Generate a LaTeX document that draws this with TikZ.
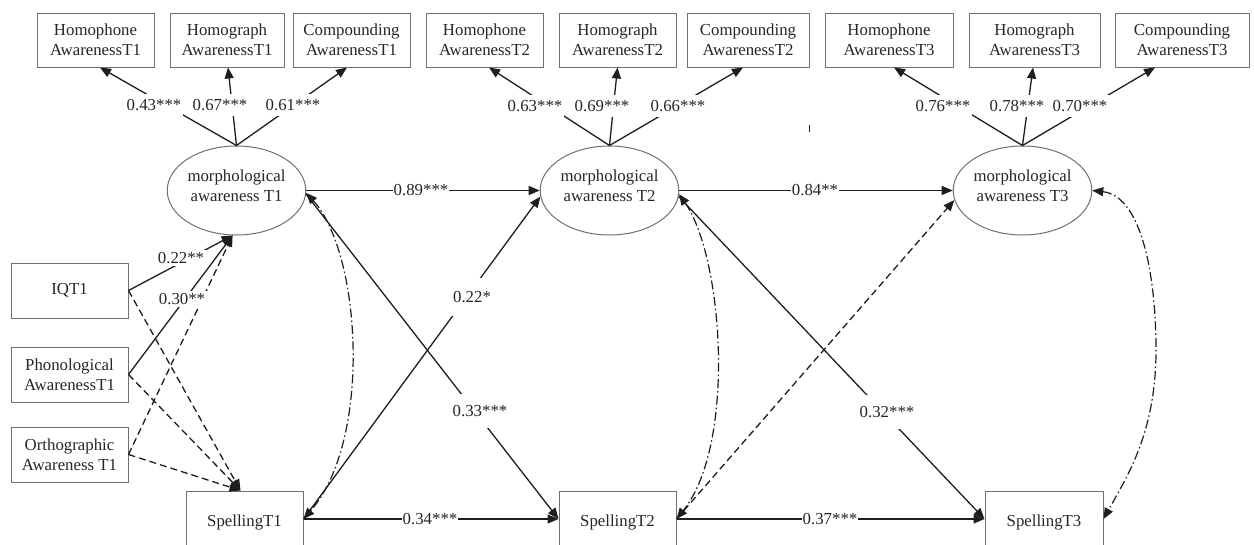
\documentclass[tikz,border=0pt]{standalone}
\usepackage{fontspec}
\setmainfont{Liberation Serif}
\usetikzlibrary{arrows.meta,calc,shapes.geometric}
\definecolor{txt}{HTML}{262626}
\definecolor{ln}{HTML}{1E1E1E}
\definecolor{bd}{HTML}{707070}
\begin{document}
\begin{tikzpicture}[x=1pt,y=-1pt,
  every node/.style={text=txt,font=\fontsize{16.8}{20}\selectfont},
  box/.style={draw=bd,line width=1pt,rectangle,align=center,inner sep=0pt,minimum height=54pt},
  lat/.style={draw=bd,line width=1pt,ellipse,align=center,inner sep=0pt,minimum width=133pt,minimum height=89pt,text depth=9pt},
  tip/.tip={Triangle[length=11pt,width=9pt]},
  reg/.style={draw=ln,line width=1.3pt,-tip},
  nsreg/.style={reg,dash pattern=on 7pt off 4pt},
  cov/.style={draw=ln,line width=1.2pt,tip-tip,dash pattern=on 9pt off 3pt on 1.5pt off 3pt},
  lbl/.style={fill=white,inner xsep=1.5pt,inner ysep=5pt},
  lblv/.style={fill=white,inner xsep=1.5pt,inner ysep=11pt}
]
\useasboundingbox (0,0) rectangle (1254,544);
\clip (0,0) rectangle (1254,544);
\fill[white] (0,0) rectangle (1254,544);

% indicator boxes
\node[box,minimum width=117pt] (hp1) at (95.5,40) {Homophone\\AwarenessT1};
\node[box,minimum width=114pt] (hg1) at (227,40) {Homograph\\AwarenessT1};
\node[box,minimum width=117pt] (cp1) at (351.5,40) {Compounding\\AwarenessT1};
\node[box,minimum width=117pt] (hp2) at (484.5,40) {Homophone\\AwarenessT2};
\node[box,minimum width=117pt] (hg2) at (617.5,40) {Homograph\\AwarenessT2};
\node[box,minimum width=122pt] (cp2) at (748,40) {Compounding\\AwarenessT2};
\node[box,minimum width=128pt] (hp3) at (889,40) {Homophone\\AwarenessT3};
\node[box,minimum width=131pt] (hg3) at (1034.5,40) {Homograph\\AwarenessT3};
\node[box,minimum width=134pt] (cp3) at (1182,40) {Compounding\\AwarenessT3};

% latent variables
\node[lat] (ma1) at (236.5,190.5) {morphological\\awareness T1};
\node[lat] (ma2) at (609.5,190.5) {morphological\\awareness T2};
\node[lat] (ma3) at (1022.5,190.5) {morphological\\awareness T3};

% control variables
\node[box,minimum width=117pt,minimum height=55pt] (iq) at (69.5,290.5) {IQT1};
\node[box,minimum width=117pt,minimum height=55pt] (ph) at (69.5,374.5) {Phonological\\AwarenessT1};
\node[box,minimum width=117pt,minimum height=55pt] (or) at (69.5,454.5) {Orthographic\\Awareness T1};

% spelling
\node[box,minimum width=117pt,minimum height=56pt,text height=14pt,text depth=0pt] (sp1) at (244.5,519) {SpellingT1};
\node[box,minimum width=117pt,minimum height=56pt,text height=14pt,text depth=0pt] (sp2) at (617.5,519) {SpellingT2};
\node[box,minimum width=118pt,minimum height=56pt,text height=14pt,text depth=0pt] (sp3) at (1044,519) {SpellingT3};

% loadings
\draw[reg] (ma1.north) -- ($(hp1.south)+(4.5,0)$);
\draw[reg] (ma1.north) -- ($(hg1.south)+(1,0)$);
\draw[reg] (ma1.north) -- ($(cp1.south)+(-4.5,0)$);
\draw[reg] (ma2.north) -- ($(hp2.south)+(4.5,0)$);
\draw[reg] (ma2.north) -- ($(hg2.south)+(0,0)$);
\draw[reg] (ma2.north) -- ($(cp2.south)+(-5,0)$);
\draw[reg] (ma3.north) -- ($(hp3.south)+(5,0)$);
\draw[reg] (ma3.north) -- ($(hg3.south)+(-1.5,0)$);
\draw[reg] (ma3.north) -- ($(cp3.south)+(-27,0)$);
\node[lbl] at (154,105) {0.43***};
\node[lbl] at (220,105) {0.67***};
\node[lbl] at (293,105) {0.61***};
\node[lbl] at (535,106) {0.63***};
\node[lbl] at (602,106) {0.69***};
\node[lbl] at (678,106) {0.66***};
\node[lbl] at (943,106) {0.76***};
\node[lbl] at (1017,106) {0.78***};
\node[lbl] at (1080,106) {0.70***};

% covariates
\draw[nsreg] (iq.east) -- ($(sp1.north)+(-4,0)$);
\draw[nsreg] (ph.east) -- ($(sp1.north)+(-4,0)$);
\draw[nsreg] (or.east) -- ($(sp1.north)+(-4,0)$);
\draw[nsreg] (or.east) -- (ma1.265);
\draw[reg] (iq.east) -- (ma1.265);
\draw[reg] (ph.east) -- (ma1.265);
\node[lbl,inner ysep=2pt] at (181,258) {0.22**};
\node[lbl,inner ysep=2pt] at (182,299) {0.30**};

% covariances
\draw[cov] (ma1.-2) .. controls +(55,60) and +(69,-79) .. (sp1.east);
\draw[cov] (ma2.-3) .. controls +(44,63) and +(60,-75) .. (sp2.east);
\draw[cov] (ma3.east) .. controls +(45,5) and (1155,260) .. (1156,345)
  .. controls (1157,430) and +(25,-45) .. (sp3.east);

% cross-lagged paths
\draw[reg] (ma1.-3) -- (sp2.west);
\draw[reg] (sp1.east) -- (ma2.185);
\draw[reg] (ma2.-5) -- (sp3.west);
\draw[nsreg] (sp2.east) -- (ma3.188);
\node[lblv] at (480,411) {0.33***};
\node[lblv,inner ysep=13pt] at (472,297) {0.22*};
\node[lblv] at (887,412) {0.32***};

% autoregressive paths
\draw[reg] (ma1.east) -- (ma2.west);
\draw[reg] (ma2.east) -- (ma3.west);
\draw[reg] (sp1.east) -- (sp2.west);
\draw[reg] (sp2.east) -- (sp3.west);
\node[lbl,inner xsep=0.5pt] at (421,190.5) {0.89***};
\node[lbl,inner xsep=0.5pt] at (815,190.5) {0.84**};
\node[lbl,inner xsep=0.5pt] at (430,519) {0.34***};
\node[lbl,inner xsep=0.5pt] at (830,519) {0.37***};

% stray tick
\draw[ln,line width=0.8pt] (809,125) -- (809,132);
\end{tikzpicture}
\end{document}
